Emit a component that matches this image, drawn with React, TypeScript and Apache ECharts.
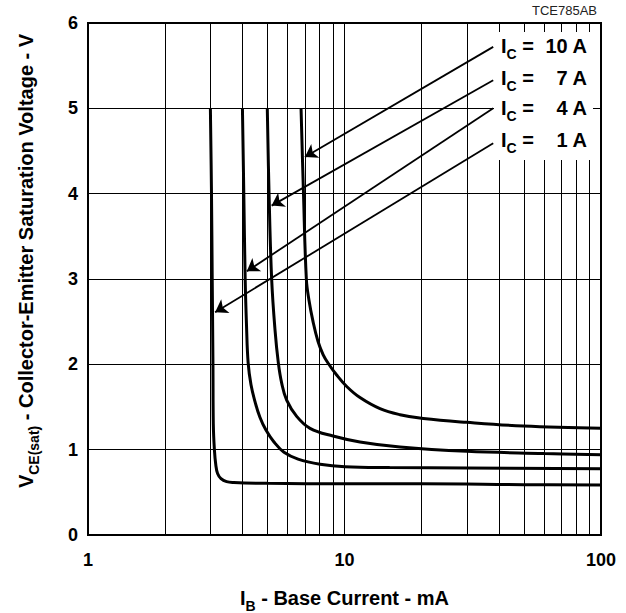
import React, { useEffect, useRef } from "react";
import * as echarts from "echarts";

// I_B (mA), V_CE(sat) (V)
const curveIc1: number[][] = [[3.0,5.0],[3.03,4.0],[3.05,3.0],[3.07,2.0],[3.08,1.3],[3.11,1.0],[3.15,0.82],[3.2,0.72],[3.3,0.66],[3.47,0.625],[3.7,0.615],[5,0.605],[10,0.6],[20,0.6],[50,0.59],[100,0.585]];
const curveIc4: number[][] = [[4.0,5.0],[4.05,4.0],[4.1,3.0],[4.15,2.45],[4.21,2.02],[4.32,1.76],[4.48,1.56],[4.68,1.38],[4.94,1.23],[5.31,1.09],[5.81,0.97],[6.59,0.89],[8.03,0.83],[10.04,0.80],[15,0.79],[30,0.785],[100,0.775]];
const curveIc7: number[][] = [[5.0,5.0],[5.08,4.0],[5.2,3.0],[5.36,2.4],[5.52,2.02],[5.69,1.78],[5.95,1.58],[6.51,1.39],[7.34,1.25],[9.02,1.16],[11.49,1.09],[16.46,1.03],[30,0.98],[60,0.955],[100,0.94]];
const curveIc10: number[][] = [[6.77,5.0],[6.92,4.0],[7.1,3.0],[7.27,2.75],[7.54,2.5],[7.88,2.27],[8.25,2.115],[8.65,2.01],[9.32,1.875],[10.2,1.74],[11.49,1.61],[13.75,1.48],[16.46,1.41],[20.29,1.365],[29.95,1.32],[49.8,1.277],[100,1.25]];

const icLabels = ["10 A", "7 A", "4 A", "1 A"];
const arrowStart: number[][] = [[38,5.72],[38,5.33],[38,5.0],[38,4.59]];
const arrowEnd: number[][] = [[7.01,4.43],[5.2,3.86],[4.16,3.09],[3.13,2.61]];
const minorIb = [2,3,4,5,6,7,8,9,20,30,40,50,60,70,80,90];
const figureCode = "TCE785AB";

const FONT = "'Liberation Sans', Arial, Helvetica, sans-serif";

export default function App() {
  const ref = useRef<HTMLDivElement>(null);
  useEffect(() => {
    if (!ref.current) return;
    const chart = echarts.init(ref.current, null, { renderer: "svg" });
    const labelYs = [46, 77.5, 108, 140];
    const labelGraphics: any[] = [];
    icLabels.forEach((t, i) => {
      labelGraphics.push({
        type: "text", x: 501, y: labelYs[i], z: 101,
        style: {
          text: "{m|I}{s|C}{m| =}", align: "left", verticalAlign: "middle", fill: "#000",
          rich: {
            m: { fontSize: 20, fontWeight: "bold", fontFamily: FONT, lineHeight: 30 },
            s: { fontSize: 14, fontWeight: "bold", fontFamily: FONT, lineHeight: 10, verticalAlign: "bottom" },
          },
        },
      });
      labelGraphics.push({
        type: "text", x: 587, y: labelYs[i], z: 101,
        style: { text: t, align: "right", verticalAlign: "middle", fill: "#000", fontSize: 20, fontWeight: "bold", fontFamily: FONT },
      });
    });

    const curveSeries = [curveIc1, curveIc4, curveIc7, curveIc10].map((d, i) => ({
      type: "line", name: "Ic" + i, data: d, symbol: "none", showSymbol: false, smooth: 0.4,
      lineStyle: { color: "#000", width: 3 }, z: 3, silent: true,
    }));

    chart.setOption({
      animation: false,
      textStyle: { fontFamily: FONT },
      grid: { left: 88, right: 25, top: 23, bottom: 78, show: true, borderColor: "#000", borderWidth: 2, backgroundColor: "transparent", containLabel: false },
      xAxis: {
        type: "log", logBase: 10, min: 1, max: 100,
        axisLine: { show: false }, axisTick: { show: false },
        splitLine: { show: true, lineStyle: { color: "#000", width: 1 } },
        minorTick: { show: false }, minorSplitLine: { show: false },
        axisLabel: { show: true, showMinLabel: true, showMaxLabel: true, color: "#000", fontSize: 18, fontWeight: "bold", margin: 16, fontFamily: FONT },
      },
      yAxis: {
        type: "value", min: 0, max: 6, interval: 1,
        axisLine: { show: false }, axisTick: { show: false },
        splitLine: { show: true, lineStyle: { color: "#000", width: 1 } },
        axisLabel: { color: "#000", fontSize: 18, fontWeight: "bold", margin: 10, fontFamily: FONT },
      },
      series: [
        {
          type: "line", name: "minor", data: [], silent: true, z: 1,
          markLine: {
            silent: true, z: 1, symbol: ["none", "none"], label: { show: false },
            emphasis: { disabled: true },
            lineStyle: { color: "#000", width: 1, type: "solid" },
            data: minorIb.map((v) => ({ xAxis: v })),
          },
        },
        ...curveSeries,
        {
          type: "line", name: "arrows", data: [], silent: true, z: 4,
          markLine: {
            silent: true, z: 4, symbol: ["none", "arrow"], symbolSize: 12, label: { show: false },
            emphasis: { disabled: true },
            lineStyle: { color: "#000", width: 1.8, type: "solid" },
            data: arrowStart.map((s, i) => [{ coord: s }, { coord: arrowEnd[i] }]),
          },
        },
      ],
      graphic: [
        { type: "rect", z: 100, shape: { x: 494, y: 32, width: 99, height: 128 }, style: { fill: "#fff" } },
        ...labelGraphics,
        {
          type: "text", x: 597, y: 10, z: 101,
          style: { text: figureCode, align: "right", verticalAlign: "middle", fill: "#222", fontSize: 13, fontFamily: FONT },
        },
        {
          type: "text", x: 344.5, y: 598, z: 101,
          style: {
            text: "{m|I}{s|B}{m| - Base Current - mA}", align: "center", verticalAlign: "middle", fill: "#000",
            rich: {
              m: { fontSize: 20, fontWeight: "bold", fontFamily: FONT, lineHeight: 30 },
              s: { fontSize: 14, fontWeight: "bold", fontFamily: FONT, lineHeight: 10, verticalAlign: "bottom" },
            },
          },
        },
        {
          type: "text", x: 26, y: 261, z: 101, rotation: Math.PI / 2,
          style: {
            text: "{m|V}{s|CE(sat)}{m| - Collector-Emitter Saturation Voltage - V}", align: "center", verticalAlign: "middle", fill: "#000",
            rich: {
              m: { fontSize: 20, fontWeight: "bold", fontFamily: FONT, lineHeight: 30 },
              s: { fontSize: 14, fontWeight: "bold", fontFamily: FONT, lineHeight: 10, verticalAlign: "bottom" },
            },
          },
        },
      ],
    });
    return () => chart.dispose();
  }, []);
  return <div ref={ref} style={{ position: "fixed", left: 0, top: 0, width: 626, height: 613, background: "#fff" }} />;
}
